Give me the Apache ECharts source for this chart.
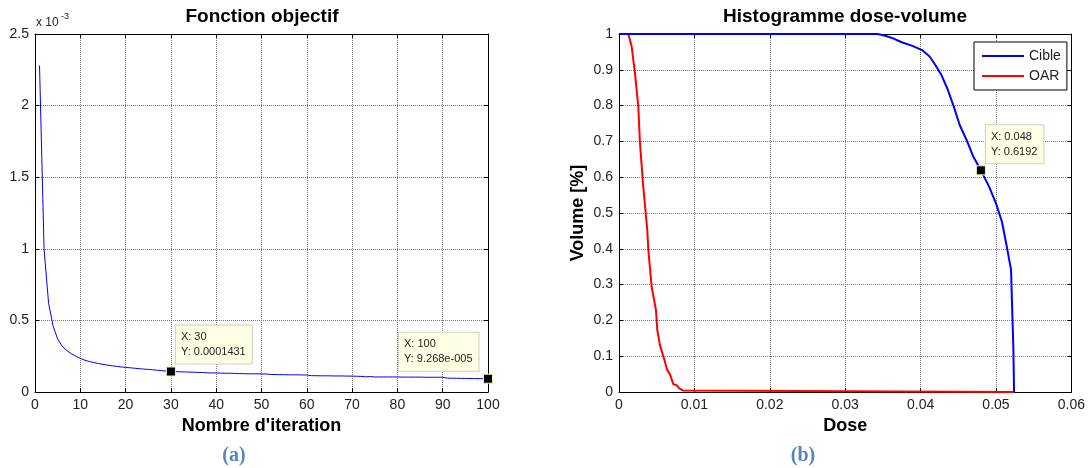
<!DOCTYPE html>
<html>
<head>
    <meta charset="utf-8">
    <title>Fonction objectif / Histogramme dose-volume</title>
    <script src="https://cdn.jsdelivr.net/npm/echarts@6/dist/echarts.min.js"></script>
</head>
<body style="margin:0;background:#fff;">
    <div id="main" style="width:1088px;height:468px;"></div>
    <script type="text/javascript">
        // fonction objectif (valeurs en x 10^-3), iterations 1..100
        var objVals = [
            2.28, 1.00, 0.62, 0.46, 0.37, 0.32, 0.29, 0.268, 0.25, 0.235,
            0.222, 0.213, 0.206, 0.199, 0.193, 0.188, 0.183, 0.179, 0.175, 0.172,
            0.169, 0.166, 0.163, 0.160, 0.158, 0.155, 0.152, 0.149, 0.146, 0.1431,
            0.142, 0.141, 0.140, 0.139, 0.138, 0.137, 0.136, 0.134, 0.133, 0.133,
            0.132, 0.131, 0.131, 0.130, 0.128, 0.128, 0.127, 0.127, 0.127, 0.126,
            0.126, 0.122, 0.122, 0.121, 0.121, 0.120, 0.120, 0.120, 0.119, 0.119,
            0.114, 0.114, 0.113, 0.113, 0.113, 0.112, 0.112, 0.112, 0.111, 0.111,
            0.110, 0.109, 0.106, 0.108, 0.105, 0.105, 0.105, 0.105, 0.105, 0.105,
            0.104, 0.104, 0.104, 0.104, 0.104, 0.103, 0.103, 0.103, 0.103, 0.103,
            0.097, 0.096, 0.096, 0.095, 0.095, 0.094, 0.094, 0.093, 0.093, 0.09268
        ];

        // histogramme dose-volume
        var cibleDose = [0, 0.0343, 0.0352, 0.0362, 0.0375, 0.0390, 0.0402, 0.0412, 0.0420, 0.0428,
            0.0436, 0.0444, 0.0452, 0.0461, 0.0470, 0.0480, 0.0491, 0.0500, 0.0508, 0.0514,
            0.0520, 0.0521, 0.0523, 0.0524];
        var cibleVol = [1, 1, 0.996, 0.989, 0.977, 0.966, 0.955, 0.937, 0.912, 0.884,
            0.845, 0.797, 0.745, 0.704, 0.657, 0.6192, 0.573, 0.527, 0.475, 0.41,
            0.341, 0.266, 0.127, 0];
        var oarDose = [0, 0.00124, 0.00168, 0.00212, 0.00256, 0.00278, 0.00322, 0.00375, 0.00389, 0.00433,
            0.0049, 0.00508, 0.00543, 0.00596, 0.0064, 0.00675, 0.0072, 0.00764, 0.00799, 0.00852, 0.0087, 0.0524];
        var oarVol = [1, 1, 0.965, 0.89, 0.797, 0.695, 0.573, 0.453, 0.397, 0.294,
            0.229, 0.173, 0.131, 0.094, 0.061, 0.05, 0.022, 0.019, 0.01, 0.004, 0, 0];

        // data tips
        var tipsA = [
            { x: 30, y: 0.1431, text: 'X: 30\nY: 0.0001431', pos: [10, -41] },
            { x: 100, y: 0.09268, text: 'X: 100\nY: 9.268e-005', pos: [-84, -41] }
        ];
        var tipsB = [
            { x: 0.048, y: 0.6192, text: 'X: 0.048\nY: 0.6192', pos: [10, -40] }
        ];

        var myChart = echarts.init(document.getElementById('main'));

        var lblColor = '#222';
        var font = 'Arial, "Liberation Sans", sans-serif';

        function pairs(xs, ys) {
            var out = [];
            for (var i = 0; i < xs.length; i++) out.push([xs[i], ys[i]]);
            return out;
        }
        var objData = [];
        for (var i = 0; i < objVals.length; i++) objData.push([i + 1, objVals[i]]);

        function tipPoints(tips) {
            return tips.map(function (t) {
                return {
                    coord: [t.x, t.y],
                    label: {
                        show: true,
                        position: t.pos,
                        align: 'left',
                        verticalAlign: 'top',
                        formatter: t.text,
                        fontSize: 11,
                        fontFamily: font,
                        lineHeight: 15,
                        color: lblColor,
                        backgroundColor: '#ffffe6',
                        borderColor: '#cfcfc0',
                        borderWidth: 1,
                        padding: [4, 6, 4, 5]
                    }
                };
            });
        }
        var markStyle = {
            symbol: 'rect',
            symbolSize: 9,
            itemStyle: { color: '#000', borderColor: '#f4f0b0', borderWidth: 1 },
            silent: true
        };

        function mainAxis(opt) {
            var ax = {
                type: 'value',
                gridIndex: opt.grid,
                position: opt.position,
                min: opt.min,
                max: opt.max,
                interval: opt.interval,
                axisLine: { show: true, onZero: false, lineStyle: { color: '#000', width: 1 } },
                axisTick: { show: true, inside: true, length: 4, lineStyle: { color: '#000' } },
                axisLabel: { show: true, color: lblColor, fontSize: 14, fontFamily: font, margin: 6, formatter: opt.fmt },
                splitLine: { show: true, lineStyle: { color: '#777', type: 'dotted', width: 1 } }
            };
            if (opt.name) {
                ax.name = opt.name;
                ax.nameLocation = 'middle';
                ax.nameGap = opt.nameGap;
                ax.nameTextStyle = { color: '#000', fontSize: 18, fontWeight: 'bold', fontFamily: font };
            }
            return ax;
        }
        function boxAxis(opt) {
            return {
                type: 'value',
                gridIndex: opt.grid,
                position: opt.position,
                min: opt.min,
                max: opt.max,
                interval: opt.interval,
                axisLine: { show: true, onZero: false, lineStyle: { color: '#000', width: 1 } },
                axisTick: { show: true, inside: true, length: 4, lineStyle: { color: '#000' } },
                axisLabel: { show: false },
                splitLine: { show: false }
            };
        }

        var fmtA = function (v) { return String(Math.round(v * 10) / 10); };
        var fmtDose = function (v) { return v === 0 ? '0' : v.toFixed(2); };
        var fmtVol = function (v) { return (v === 0 || v === 1) ? String(v) : v.toFixed(1); };

        var titleFont = 'bold 19px ' + font;
        var capFont = 'bold 20px "Liberation Serif", "Times New Roman", serif';

        var option = {
            animation: false,
            backgroundColor: '#fff',
            grid: [
                { left: 35, top: 34, width: 453, height: 358 },
                { left: 619, top: 34, width: 453, height: 358 }
            ],
            xAxis: [
                mainAxis({ grid: 0, position: 'bottom', min: 0, max: 100, interval: 10, name: "Nombre d'iteration", nameGap: 22 }),
                boxAxis({ grid: 0, position: 'top', min: 0, max: 100, interval: 10 }),
                mainAxis({ grid: 1, position: 'bottom', min: 0, max: 0.06, interval: 0.01, fmt: fmtDose, name: 'Dose', nameGap: 22 }),
                boxAxis({ grid: 1, position: 'top', min: 0, max: 0.06, interval: 0.01 })
            ],
            yAxis: [
                mainAxis({ grid: 0, position: 'left', min: 0, max: 2.5, interval: 0.5, fmt: fmtA }),
                boxAxis({ grid: 0, position: 'right', min: 0, max: 2.5, interval: 0.5 }),
                mainAxis({ grid: 1, position: 'left', min: 0, max: 1, interval: 0.1, fmt: fmtVol, name: 'Volume [%]', nameGap: 32 }),
                boxAxis({ grid: 1, position: 'right', min: 0, max: 1, interval: 0.1 })
            ],
            legend: {
                data: [{ name: 'Cible', icon: 'rect' }, { name: 'OAR', icon: 'rect' }],
                orient: 'vertical',
                left: 974,
                top: 42,
                backgroundColor: '#fff',
                borderColor: '#000',
                borderWidth: 1,
                padding: [6, 6, 6, 8],
                itemGap: 4,
                itemWidth: 42,
                itemHeight: 2,
                textStyle: { fontSize: 14, fontFamily: font, color: lblColor, padding: [0, 0, 0, 0], lineHeight: 16 }
            },
            graphic: [
                { type: 'text', style: { text: 'Fonction objectif', x: 262, y: 17, textAlign: 'center', textVerticalAlign: 'middle', verticalAlign: 'middle', font: titleFont, fill: '#000' } },
                { type: 'text', style: { text: 'Histogramme dose-volume', x: 845, y: 17, textAlign: 'center', textVerticalAlign: 'middle', verticalAlign: 'middle', font: titleFont, fill: '#000' } },
                { type: 'text', style: { text: 'x 10', x: 36, y: 17, font: '12px ' + font, fill: lblColor } },
                { type: 'text', style: { text: '-3', x: 61, y: 12, font: '9px ' + font, fill: lblColor } },
                { type: 'text', style: { text: '(a)', x: 234, y: 446, textAlign: 'center', font: capFont, fill: '#5686c0' } },
                { type: 'text', style: { text: '(b)', x: 803, y: 446, textAlign: 'center', font: capFont, fill: '#5686c0' } }
            ],
            series: [
                {
                    name: 'Fonction',
                    type: 'line',
                    xAxisIndex: 0,
                    yAxisIndex: 0,
                    data: objData,
                    symbol: 'none',
                    lineStyle: { color: '#0000ff', width: 1 },
                    markPoint: Object.assign({ data: tipPoints(tipsA) }, markStyle)
                },
                {
                    name: 'Cible',
                    type: 'line',
                    xAxisIndex: 2,
                    yAxisIndex: 2,
                    data: pairs(cibleDose, cibleVol),
                    symbol: 'none',
                    color: '#0000ff',
                    lineStyle: { color: '#0000ff', width: 2 },
                    markPoint: Object.assign({ data: tipPoints(tipsB) }, markStyle),
                    z: 3
                },
                {
                    name: 'OAR',
                    type: 'line',
                    xAxisIndex: 2,
                    yAxisIndex: 2,
                    data: pairs(oarDose, oarVol),
                    symbol: 'none',
                    color: '#ff0000',
                    lineStyle: { color: '#ff0000', width: 2 },
                    z: 2
                }
            ]
        };

        myChart.setOption(option);
    </script>
</body>
</html>
